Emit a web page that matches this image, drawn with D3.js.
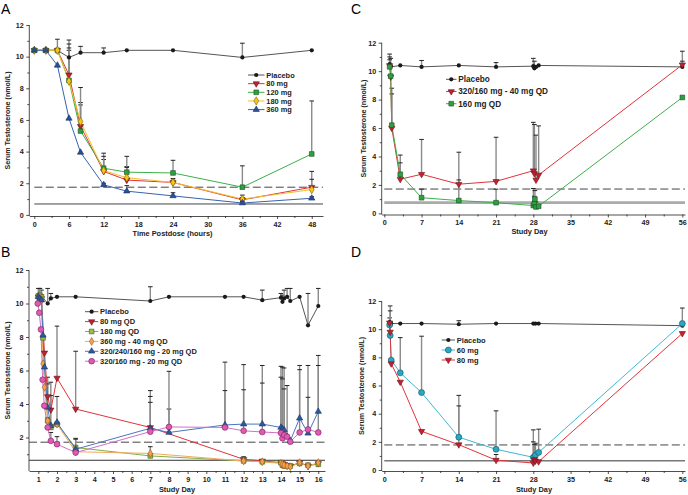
<!DOCTYPE html>
<html>
<head>
<meta charset="utf-8">
<script src="https://cdn.jsdelivr.net/npm/d3@7"></script>
<style>
  body { margin: 0; background: #fff; }
  svg { font-family: "Liberation Sans", Arial, sans-serif; }
</style>
</head>
<body>
<svg id="fig" width="688" height="495"></svg>
<script>
// ---- Panel A: single dose, hours ----
const aHours      = [0, 2, 4, 6, 8, 12, 16, 24, 36, 48];
const aPlacebo    = [10.4, 10.4, 10.4, 9.95, 10.25, 10.25, 10.4, 10.4, 9.95, 10.4];
const aPlaceboErr = [null, null, 11.1, 11.05, 10.65, 10.55, null, null, 10.85, null];
const a80         = [10.4, 10.4, 10.4, 8.85, 5.6, 2.75, 2.2, 2.05, 0.95, 1.75];
const a80Err      = [null, null, null, 10.8, 7.1, 3.5, 3.05, 2.3, 1.25, 2.75];
const a120        = [10.4, 10.4, 10.4, 8.5, 5.3, 2.95, 2.7, 2.65, 1.75, 3.85];
const a120Err     = [null, null, null, 10.4, 6.95, 3.9, 3.7, 3.45, 3.1, 7.2];
const a180        = [10.4, 10.4, 10.4, 8.45, 5.9, 2.8, 2.35, 2.05, 1.0, 1.6];
const a180Err     = [null, null, null, 10.55, 8.05, 3.7, 3.0, 2.2, 1.1, 2.25];
const a360        = [10.4, 10.4, 9.45, 6.1, 3.95, 1.9, 1.5, 1.2, 0.75, 1.05];
const a360Err     = [null, null, null, null, null, 2.0, 1.85, 1.4, 0.85, 1.15];

// ---- Panel B: multiple dose, days 1-16 ----
const bPlaceboDay = [1, 1.17, 1.5, 1.67, 2, 3, 7, 8, 11, 12, 13, 14, 14.08, 14.17, 14.33, 14.5, 15, 15.45, 16];
const bPlacebo    = [10.4, 10.45, 10.0, 10.3, 10.4, 10.4, 10.15, 10.4, 10.4, 10.4, 10.2, 10.35, 10.1, 10.3, 10.4, 10.15, 10.4, 8.7, 9.85];
const bPlaceboErr = [10.9, 10.8, 10.9, 10.6, null, null, 11.0, null, null, null, 10.8, 10.6, 10.5, 10.8, 10.9, 10.9, null, 10.6, 10.9];
const b80Day      = [1, 1.08, 1.17, 1.33, 1.5, 1.67, 2, 3, 7, 12, 13, 14, 14.08, 14.17, 14.33, 14.5, 15, 15.45, 16];
const b80         = [10.4, 10.4, 10.3, 7.05, 4.45, 3.65, 5.55, 3.7, 2.6, 0.7, 0.6, 0.5, 0.45, 0.4, 0.35, 0.3, 0.5, 0.3, 0.45];
const b80Err      = [null, 10.9, null, null, 5.6, 5.3, 8.65, 7.15, 4.8, 0.85, null, null, null, null, null, null, null, null, null];
const b180Day     = [1, 1.08, 1.17, 1.25, 1.5, 1.67, 2, 3, 7, 12, 13, 14, 14.08, 14.17, 14.33, 14.5, 15, 15.45, 16];
const b180        = [10.45, 10.5, 10.4, 7.95, 3.0, 2.6, 2.8, 1.4, 0.9, 0.6, 0.55, 0.5, 0.35, 0.3, 0.3, 0.3, 0.45, 0.35, 0.4];
const b180Err     = [null, 10.9, null, null, null, null, null, 1.95, 1.45, null, null, null, null, null, null, null, null, null, null];
const b360Day     = [1, 1.08, 1.17, 1.25, 1.33, 1.5, 1.67, 2, 3, 7, 12, 13, 14, 14.08, 14.17, 14.33, 14.5, 15, 15.45, 16];
const b360        = [10.4, 10.4, 10.2, 6.4, 5.0, 3.0, 2.7, 2.8, 1.15, 1.05, 0.6, 0.55, 0.45, 0.4, 0.35, 0.3, 0.25, 0.5, 0.3, 0.5];
const b320aDay    = [1, 1.08, 1.17, 1.25, 1.33, 1.5, 1.67, 2, 3, 7, 8, 11, 12, 13, 14, 14.08, 14.17, 14.33, 14.5, 15, 15.45, 16];
const b320a       = [10.4, 10.3, 10.2, 8.1, 6.2, 3.8, 2.7, 2.9, 1.3, 2.55, 2.3, 2.75, 2.8, 2.8, 2.6, 2.5, 2.45, 2.05, 1.8, 3.15, 2.25, 3.55];
const b320aErr    = [null, null, null, null, null, 5.2, 4.5, 4.45, 1.9, 4.45, 3.7, 6.5, 6.35, 6.3, 6.25, 6.2, 6.15, 5.1, null, 6.3, 6.3, 6.9];
const b320bDay    = [0.97, 1.05, 1.14, 1.23, 1.32, 1.5, 1.67, 2, 3, 7, 8, 11, 12, 13, 14, 14.08, 14.17, 14.33, 14.5, 15, 15.45, 16];
const b320b       = [10.0, 9.45, 8.45, 5.45, 3.9, 2.6, 1.8, 1.6, 1.1, 2.35, 2.63, 2.6, 2.4, 2.33, 2.27, 1.95, 2.15, 2.05, 1.75, 2.3, 2.48, 2.3];
const b320bErr    = [null, null, null, null, null, 3.2, 2.3, 2.05, null, 4.1, 5.95, 4.8, 4.85, 5.25, 5.6, 5.5, 4.9, null, null, 6.05, 4.4, 6.3];

// ---- Panel C: days 0-56 ----
const cPlaceboDay = [1, 1.2, 3, 7, 14, 21, 28, 28.2, 28.5, 29, 56];
const cPlacebo    = [10.5, 10.3, 10.4, 10.3, 10.4, 10.3, 10.35, 10.2, 10.3, 10.4, 10.3];
const cPlaceboErr = [11.2, null, null, 10.75, null, 10.6, 10.9, 10.7, null, null, 11.4];
const cLoadDay    = [1, 1.2, 1.4, 3, 7, 14, 21, 28, 28.2, 28.5, 29, 56];
const cLoad       = [10.4, 9.6, 6.0, 2.4, 2.75, 2.05, 2.25, 3.0, 2.8, 2.35, 2.7, 10.45];
const cLoadErr    = [11.0, 10.9, 8.8, 4.1, 5.2, 4.3, 5.35, 6.4, 6.25, 5.5, 6.15, 10.7];
const c160Day     = [1, 1.2, 1.4, 3, 7, 14, 21, 28, 28.2, 28.3, 28.5, 29, 56];
const c160        = [10.3, 9.65, 6.2, 2.75, 1.1, 0.9, 0.75, 0.55, 0.7, 1.0, 0.45, 0.5, 8.15];
const c160Err     = [10.8, 10.4, 8.4, 3.55, 1.7, 2.35, 1.7, 1.75, 1.2, 1.6, 0.8, null, null];

// ---- Panel D: days 0-56 ----
const dPlaceboDay = [1, 1.3, 3, 7, 14, 21, 28, 28.4, 29, 56];
const dPlacebo    = [10.5, 10.4, 10.4, 10.4, 10.35, 10.4, 10.4, 10.4, 10.4, 10.25];
const dPlaceboErr = [10.8, null, null, null, 10.6, null, null, null, null, null];
const d60Day      = [1, 1.1, 1.3, 3, 7, 14, 21, 28, 28.4, 29, 56];
const d60         = [10.3, 9.55, 7.8, 6.9, 5.5, 2.33, 1.47, 0.9, 1.05, 1.25, 10.4];
const d60Err      = [null, 11.65, null, 9.4, 9.5, 5.3, 4.2, 2.85, 1.9, 2.9, 11.5];
const d80Day      = [1, 1.1, 1.3, 3, 7, 14, 21, 28, 28.2, 28.4, 29, 56];
const d80         = [10.45, 9.8, 7.55, 6.25, 2.75, 1.8, 0.7, 0.5, 0.75, 0.65, 0.6, 9.7];
const d80Err      = [null, 11.3, null, null, null, 4.55, 1.1, 2.0, 1.8, null, null, null];

// reference levels, panels A, B, C, D
const refDashed = [1.75, 1.72, 1.71, 1.78];
const refSolid  = [0.69, 0.64, 0.75, 0.65];

const yTitle = "Serum Testosterone (nmol/L)";

// marker + line styles
const sty = {
  placebo: {line: "#555", fill: "#1a1a1a", stroke: "#1a1a1a", shape: "circle", size: 14},
  red:     {line: "#e0333a", fill: "#c42032", stroke: "#6a1018", shape: "down", size: 17},
  green:   {line: "#3cb04a", fill: "#2ea043", stroke: "#1a5020", shape: "square", size: 22},
  yellow:  {line: "#f2c02a", fill: "#f5c518", stroke: "#806000", shape: "diamond", size: 20},
  blue:    {line: "#3a62b0", fill: "#2a4f9a", stroke: "#16305f", shape: "up", size: 17},
  olive:   {line: "#86ad44", fill: "#98bd48", stroke: "#405a18", shape: "square", size: 22},
  orange:  {line: "#f0aa60", fill: "#f5a050", stroke: "#9a5a24", shape: "diamond", size: 18},
  blue2:   {line: "#4a76c0", fill: "#2e5aa0", stroke: "#16305f", shape: "up", size: 17},
  pink:    {line: "#d070c8", fill: "#e05ab2", stroke: "#7a2060", shape: "circle", size: 26},
  cyan:    {line: "#40b8d0", fill: "#2aa8c0", stroke: "#135060", shape: "circle", size: 28},
};

const symType = {circle: d3.symbolCircle, square: d3.symbolSquare, diamond: d3.symbolDiamond,
                 up: d3.symbolTriangle, down: d3.symbolTriangle};

const svg = d3.select("#fig");

const ser = (name, xs, ys, err, style) => ({name, xs, ys, err, style});

const panels = [
  {label: "A", lx: 1, ly: 13.5,
   xDomain: [-0.865, 49.95], xRange: [29.3, 323], xTicks: d3.range(0, 49, 6), xMinor: d3.range(3, 48, 6),
   yDomain: [-0.07, 12], yRange: [216, 25], yTicks: d3.range(0, 13, 2), yMinor: d3.range(1, 12, 2),
   xTitle: "Time Postdose (hours)", xtx: 172.5, xty: 235.5, ytx: 7,
   ref: 0, refX: [0, 49.95], solidColor: "#444", solidWidth: 1,
   legend: {x: 248, y: 75, dy: 8.65, len: 16.5, font: 7.4},
   series: [
     ser("Placebo", aHours, aPlacebo, aPlaceboErr, sty.placebo),
     ser("80 mg", aHours, a80, a80Err, sty.red),
     ser("120 mg", aHours, a120, a120Err, sty.green),
     ser("180 mg", aHours, a180, a180Err, sty.yellow),
     ser("360 mg", aHours, a360, a360Err, sty.blue),
   ]},
  {label: "B", lx: 1, ly: 256.5,
   xDomain: [0.5, 16.36], xRange: [29, 325], xTicks: d3.range(1, 17), xMinor: d3.range(1.5, 16, 1),
   yDomain: [0, 12], yRange: [471, 270], yTicks: d3.range(2, 13, 2), yMinor: d3.range(1, 12, 2),
   xTitle: "Study Day", xtx: 177, xty: 492, ytx: 7,
   ref: 1, refX: [0.5, 16.36], solidColor: "#333", solidWidth: 1,
   legend: {x: 85, y: 311.7, dy: 9.9, len: 13.3, font: 7.5},
   series: [
     ser("Placebo", bPlaceboDay, bPlacebo, bPlaceboErr, sty.placebo),
     ser("80 mg QD", b80Day, b80, b80Err, sty.red),
     ser("180 mg QD", b180Day, b180, b180Err, sty.olive),
     ser("360 mg - 40 mg QD", b360Day, b360, null, sty.orange),
     ser("320/240/160 mg - 20 mg QD", b320aDay, b320a, b320aErr, sty.blue2),
     ser("320/160 mg - 20 mg QD", b320bDay, b320b, b320bErr, sty.pink),
   ]},
  {label: "C", lx: 351, ly: 13.5,
   xDomain: [-0.49, 56.5], xRange: [381.7, 685], xTicks: d3.range(0, 57, 7), xMinor: d3.range(3.5, 56, 7),
   yDomain: [-0.08, 12], yRange: [214.5, 42.7], yTicks: d3.range(0, 13, 2), yMinor: d3.range(1, 12, 2),
   xTitle: "Study Day", xtx: 529.5, xty: 233.5, ytx: 363,
   ref: 2, refX: [0, 56.5], solidColor: "#aaa", solidWidth: 2.8,
   legend: {x: 446, y: 79.3, dy: 12.2, len: 10.5, font: 8.2},
   series: [
     ser("Placebo", cPlaceboDay, cPlacebo, cPlaceboErr, sty.placebo),
     ser("320/160 mg - 40 mg QD", cLoadDay, cLoad, cLoadErr, sty.red),
     ser("160 mg QD", c160Day, c160, c160Err, sty.green),
   ]},
  {label: "D", lx: 351, ly: 257,
   xDomain: [-0.49, 56.5], xRange: [381.7, 685], xTicks: d3.range(0, 57, 7), xMinor: d3.range(3.5, 56, 7),
   yDomain: [-0.07, 12], yRange: [471, 301], yTicks: d3.range(0, 13, 2), yMinor: d3.range(1, 12, 2),
   xTitle: "Study Day", xtx: 534, xty: 491.5, ytx: 361,
   ref: 3, refX: [0, 56.5], solidColor: "#333", solidWidth: 1,
   legend: {x: 441.7, y: 340, dy: 10, len: 13.3, font: 7.5},
   series: [
     ser("Placebo", dPlaceboDay, dPlacebo, dPlaceboErr, sty.placebo),
     ser("60 mg", d60Day, d60, d60Err, sty.cyan),
     ser("80 mg", d80Day, d80, d80Err, sty.red),
   ]},
];

function marker(sel, s) {
  sel.attr("d", d3.symbol().type(symType[s.shape]).size(s.size))
    .attr("fill", s.fill)
    .attr("stroke", s.stroke)
    .attr("stroke-width", s.shape === "circle" && s.size < 20 ? 0 : 0.6);
}

function drawPanel(p) {
  const g = svg.append("g");
  const x = d3.scaleLinear().domain(p.xDomain).range(p.xRange);
  const y = d3.scaleLinear().domain(p.yDomain).range(p.yRange);
  const y0 = p.yRange[0], x0 = p.xRange[0];

  // axes
  g.append("g").attr("transform", `translate(0,${y0})`)
    .call(d3.axisBottom(x).tickValues(p.xTicks).tickSize(3).tickSizeOuter(0).tickPadding(2.5));
  g.append("g").attr("transform", `translate(0,${y0})`)
    .call(d3.axisBottom(x).tickValues(p.xMinor).tickSize(2).tickFormat(""))
    .call(a => a.select(".domain").remove());
  const ay = g.append("g").attr("transform", `translate(${x0},0)`)
    .call(d3.axisLeft(y).tickValues(p.yTicks).tickSize(3).tickSizeOuter(0).tickPadding(2.5));
  g.append("g").attr("transform", `translate(${x0},0)`)
    .call(d3.axisLeft(y).tickValues(p.yMinor).tickSize(2).tickFormat(""))
    .call(a => a.select(".domain").remove());
  g.selectAll(".domain, .tick line").attr("stroke", "#222").attr("stroke-width", 0.8);
  g.selectAll(".tick text").attr("font-size", 7.2).attr("fill", "#222")
    .attr("font-family", "Liberation Sans, Arial, sans-serif").attr("font-weight", "bold");
  ay.select(".domain").attr("d", `M0,${y0}V${y(12)}`);

  // titles
  g.append("text").attr("x", p.lx).attr("y", p.ly).attr("font-size", 14).text(p.label);
  g.append("text").attr("x", p.xtx).attr("y", p.xty).attr("text-anchor", "middle")
    .attr("font-size", 7.4).attr("font-weight", "bold").attr("fill", "#222").text(p.xTitle);
  g.append("text").attr("transform", `translate(${p.ytx},${(y0 + y(12)) / 2}) rotate(-90)`)
    .attr("text-anchor", "middle").attr("dy", "0.35em")
    .attr("font-size", 7.1).attr("font-weight", "bold").attr("fill", "#222").text(yTitle);

  // reference lines
  g.append("line").attr("x1", x(p.refX[0])).attr("x2", x(p.refX[1]))
    .attr("y1", y(refSolid[p.ref])).attr("y2", y(refSolid[p.ref]))
    .attr("stroke", p.solidColor).attr("stroke-width", p.solidWidth);
  g.append("line").attr("x1", x(p.refX[0])).attr("x2", x(p.refX[1]))
    .attr("y1", y(refDashed[p.ref])).attr("y2", y(refDashed[p.ref]))
    .attr("stroke", "#444").attr("stroke-width", 1).attr("stroke-dasharray", "8,3.5");

  // error bars
  const eg = g.append("g");
  p.series.forEach(s => {
    if (!s.err) return;
    s.xs.forEach((xv, i) => {
      const e = s.err[i];
      if (e == null) return;
      eg.append("line").attr("x1", x(xv)).attr("x2", x(xv))
        .attr("y1", y(s.ys[i])).attr("y2", y(e))
        .attr("stroke", "#8a8a8a").attr("stroke-width", 1.4);
      eg.append("line").attr("x1", x(xv) - 2.3).attr("x2", x(xv) + 2.3)
        .attr("y1", y(e)).attr("y2", y(e))
        .attr("stroke", "#222").attr("stroke-width", 1);
    });
  });

  // series lines and markers
  const line = d3.line().x(d => x(d[0])).y(d => y(d[1]));
  p.series.forEach(s => {
    const pts = s.xs.map((xv, i) => [xv, s.ys[i]]);
    g.append("path").datum(pts).attr("d", line)
      .attr("fill", "none").attr("stroke", s.style.line).attr("stroke-width", 1);
  });
  p.series.forEach(s => {
    const pts = s.xs.map((xv, i) => [xv, s.ys[i]]);
    g.append("g").selectAll("path").data(pts).join("path")
      .attr("transform", d => `translate(${x(d[0])},${y(d[1])})${s.style.shape === "down" ? " rotate(180)" : ""}`)
      .call(marker, s.style);
  });

  // legend
  const L = p.legend;
  p.series.forEach((s, i) => {
    const ly = L.y + i * L.dy;
    const lg = g.append("g");
    lg.append("line").attr("x1", L.x).attr("x2", L.x + L.len).attr("y1", ly).attr("y2", ly)
      .attr("stroke", s.style.line).attr("stroke-width", 1);
    lg.append("path")
      .attr("transform", `translate(${L.x + L.len / 2},${ly})${s.style.shape === "down" ? " rotate(180)" : ""}`)
      .call(marker, s.style);
    lg.append("text").attr("x", L.x + L.len + 1.8).attr("y", ly).attr("dy", "0.35em")
      .attr("font-size", L.font).attr("font-weight", "bold").attr("fill", "#222").text(s.name);
  });
}

panels.forEach(drawPanel);
</script>
</body>
</html>
